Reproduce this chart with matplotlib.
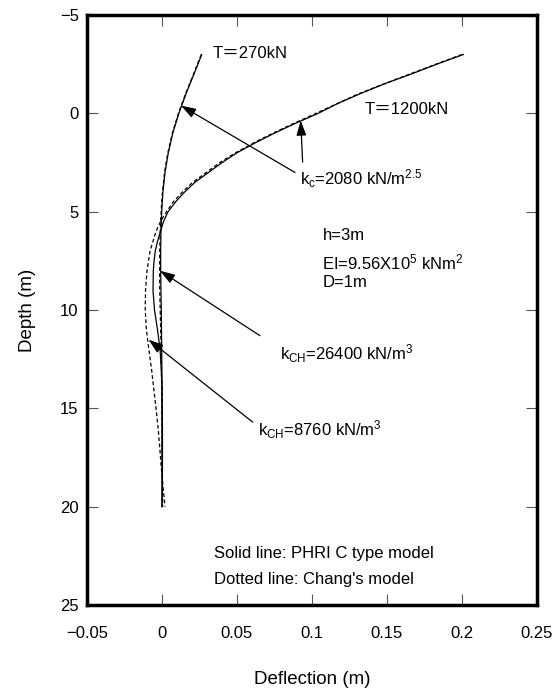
import matplotlib.pyplot as plt

plt.rcParams['font.family'] = ['Liberation Sans', 'Noto Sans CJK JP']
plt.rcParams['mathtext.fontset'] = 'custom'
plt.rcParams['mathtext.rm'] = 'Liberation Sans'
plt.rcParams['mathtext.it'] = 'Liberation Sans'

# T=1200kN, PHRI C type model (solid)
depth_1200_phri = [-3.0, -2.5, -2.0, -1.5, -1.0, -0.5, 0.0, 0.5, 1.0, 1.5, 2.0, 2.5,
                   3.0, 3.5, 4.0, 4.5, 5.0, 5.5, 6.0, 6.5, 7.0, 7.5, 8.0, 9.0,
                   10.0, 11.0, 12.0, 13.0, 14.0, 16.0, 18.0, 20.0]
defl_1200_phri = [0.201, 0.183, 0.166, 0.148, 0.132, 0.117, 0.104, 0.089, 0.075, 0.062,
                  0.050, 0.040, 0.031, 0.022, 0.015, 0.009, 0.004, 0.001, -0.001, -0.003,
                  -0.0045, -0.0053, -0.0058, -0.006, -0.005, -0.003, -0.0013, -0.0005,
                  0.0, 0.0003, 0.0003, 0.0]

# T=1200kN, Chang's model (dotted)
depth_1200_chang = [-3.0, -2.0, -1.0, 0.0, 0.5, 1.0, 1.5, 2.0, 2.5, 3.0, 3.5, 4.0, 4.5,
                    5.0, 5.5, 6.0, 6.5, 7.0, 7.5, 8.0, 9.0, 10.0, 11.0, 12.0, 13.0,
                    14.0, 15.0, 16.0, 17.0, 18.0, 19.0, 20.0]
defl_1200_chang = [0.200, 0.165, 0.131, 0.1025, 0.088, 0.074, 0.061, 0.049, 0.0385, 0.0295,
                   0.0205, 0.0135, 0.0075, 0.003, -0.001, -0.004, -0.006, -0.008, -0.009,
                   -0.010, -0.011, -0.0112, -0.0104, -0.0088, -0.007, -0.0055, -0.004,
                   -0.0026, -0.0015, -0.0005, 0.0007, 0.002]

# T=270kN, PHRI C type model (solid)
depth_270_phri = [-3.0, -2.0, -1.0, 0.0, 1.0, 2.0, 3.0, 4.0, 5.0, 6.0, 7.0, 8.0, 9.0,
                  10.0, 12.0, 14.0, 20.0]
defl_270_phri = [0.0265, 0.0213, 0.0160, 0.0112, 0.0072, 0.0042, 0.0020, 0.0006, -0.0002,
                 -0.0007, -0.0009, -0.0009, -0.0007, -0.0005, -0.0002, 0.0, 0.0]

# T=270kN, Chang's model (dotted)
depth_270_chang = [-3.0, -2.0, -1.0, 0.0, 1.0, 2.0, 3.0, 4.0, 5.0, 6.0, 7.0, 8.0, 9.0,
                   10.0, 12.0, 14.0, 16.0, 18.0, 20.0]
defl_270_chang = [0.0262, 0.0210, 0.0157, 0.0109, 0.0069, 0.0039, 0.0017, 0.0003, -0.0006,
                  -0.0012, -0.0015, -0.0016, -0.0015, -0.0012, -0.0006, -0.0002, 0.0,
                  0.0002, 0.0004]

xticks = [-0.05, 0, 0.05, 0.1, 0.15, 0.2, 0.25]
xtick_labels = ['\u22120.05', '0', '0.05', '0.1', '0.15', '0.2', '0.25']
yticks = [-5, 0, 5, 10, 15, 20, 25]
ytick_labels = ['\u22125', '0', '5', '10', '15', '20', '25']

fig = plt.figure(figsize=(5.58, 6.91), dpi=100)
ax = fig.add_axes([0.156, 0.1245, 0.806, 0.8535])

dotted = (0, (3, 2))
ax.plot(defl_1200_phri, depth_1200_phri, color='k', lw=0.9)
ax.plot(defl_1200_chang, depth_1200_chang, color='k', lw=0.9, linestyle=dotted)
ax.plot(defl_270_phri, depth_270_phri, color='k', lw=0.9)
ax.plot(defl_270_chang, depth_270_chang, color='k', lw=0.9, linestyle=dotted)

ax.set_xlim(-0.05, 0.25)
ax.set_ylim(25, -5)
ax.set_xticks(xticks)
ax.set_xticklabels(xtick_labels)
ax.set_yticks(yticks)
ax.set_yticklabels(ytick_labels)
ax.tick_params(direction='in', length=8, width=0.8, color='#555555',
               top=True, right=True, labelsize=12)
ax.tick_params(axis='x', pad=15)
ax.tick_params(axis='y', pad=6)
for s in ax.spines.values():
    s.set_linewidth(2.5)

ax.set_xlabel('Deflection (m)', fontsize=13.5, labelpad=22)
ax.set_ylabel('Depth (m)', fontsize=13.5, labelpad=17)

# labels on the curves
ax.text(0.034, -3.05, 'T\uff1d270kN', fontsize=12, va='center')
ax.text(0.1353, -0.2, 'T\uff1d1200kN', fontsize=12, va='center')
ax.text(0.092, 3.3, r'k$_{\rm c}$=2080 kN/m$^{2.5}$', fontsize=12, va='center')
ax.text(0.107, 6.2, 'h=3m', fontsize=12, va='center')
ax.text(0.107, 7.6, r'EI=9.56X10$^{5}$ kNm$^{2}$', fontsize=12, va='center')
ax.text(0.107, 8.6, 'D=1m', fontsize=12, va='center')
ax.text(0.0787, 12.2, r'k$_{\rm CH}$=26400 kN/m$^{3}$', fontsize=12, va='center')
ax.text(0.064, 16.1, r'k$_{\rm CH}$=8760 kN/m$^{3}$', fontsize=12, va='center')
ax.text(0.035, 22.4, 'Solid line: PHRI C type model', fontsize=12, va='center')
ax.text(0.035, 23.7, "Dotted line: Chang's model", fontsize=12, va='center')

arrow = dict(arrowstyle='-|>,head_length=0.9,head_width=0.3', lw=0.9, color='k',
             shrinkA=0, shrinkB=0)
ax.annotate('', xy=(0.0127, -0.4), xytext=(0.0887, 3.0), arrowprops=arrow)
ax.annotate('', xy=(0.0925, 0.36), xytext=(0.0938, 2.47), arrowprops=arrow)
ax.annotate('', xy=(-0.0013, 8.0), xytext=(0.0653, 11.3), arrowprops=arrow)
ax.annotate('', xy=(-0.009, 11.5), xytext=(0.0605, 15.7), arrowprops=arrow)

plt.savefig('out.png', dpi=100)
